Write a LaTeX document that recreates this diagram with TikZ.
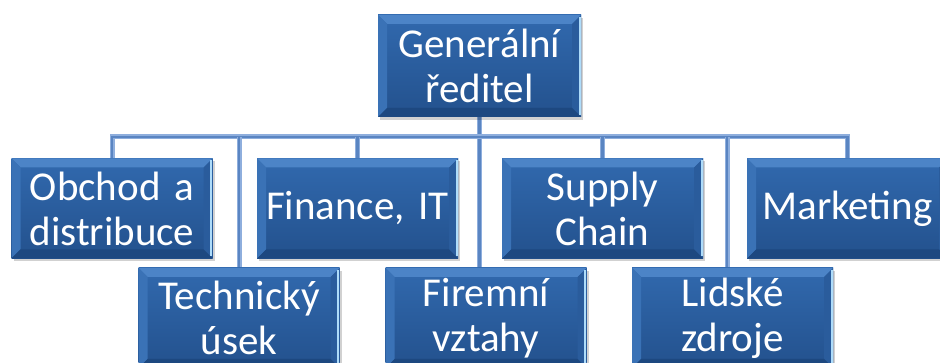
\documentclass[tikz,border=0pt]{standalone}
\usepackage{fontspec}
\setmainfont{Carlito}
\usetikzlibrary{shadows,calc}
\definecolor{mainTop}{HTML}{3169AE}
\definecolor{mainBot}{HTML}{23518D}
\definecolor{bevTop}{HTML}{4C84C7}
\definecolor{bevLeft}{HTML}{3A72B6}
\definecolor{bevRight}{HTML}{2A5C9C}
\definecolor{bevBot}{HTML}{1D4880}
\definecolor{hiLine}{HTML}{AEDCFA}
\definecolor{conOut}{HTML}{8EAEDD}
\definecolor{conIn}{HTML}{5A85C2}
\newcommand{\boxfont}{\fontsize{41}{45}\selectfont\frenchspacing\spaceskip=0.22em\relax}
\tikzset{
  orgbox/.style={minimum width=#1, minimum height=100pt, inner sep=0pt,
    text width=195pt, align=center, font=\boxfont, text=white,
    top color=mainTop, bottom color=mainBot, draw=none,
    drop shadow={shadow xshift=2pt, shadow yshift=-3pt, fill=black, opacity=0.18},
    path picture={
      \fill[bevTop] (path picture bounding box.north west) -- (path picture bounding box.north east)
        -- ([shift={(-9pt,-9pt)}]path picture bounding box.north east)
        -- ([shift={(9pt,-9pt)}]path picture bounding box.north west) -- cycle;
      \fill[bevLeft] (path picture bounding box.north west) -- (path picture bounding box.south west)
        -- ([shift={(9pt,9pt)}]path picture bounding box.south west)
        -- ([shift={(9pt,-9pt)}]path picture bounding box.north west) -- cycle;
      \fill[bevRight] (path picture bounding box.north east) -- (path picture bounding box.south east)
        -- ([shift={(-9pt,9pt)}]path picture bounding box.south east)
        -- ([shift={(-9pt,-9pt)}]path picture bounding box.north east) -- cycle;
      \fill[bevBot] (path picture bounding box.south west) -- (path picture bounding box.south east)
        -- ([shift={(-9pt,9pt)}]path picture bounding box.south east)
        -- ([shift={(9pt,9pt)}]path picture bounding box.south west) -- cycle;
      \draw[hiLine, line width=2pt] ([shift={(-1.5pt,-2pt)}]path picture bounding box.north east)
        -- ([shift={(-1.5pt,2pt)}]path picture bounding box.south east);
    }},
  orgbox/.default=201pt,
  conn/.style={draw=conOut, double=conIn, double distance=2.4pt, line width=1.3pt, line join=miter}
}
\begin{document}
\begin{tikzpicture}[x=1pt,y=-1pt]
\useasboundingbox (0,0) rectangle (940,363);
\clip (0,0) rectangle (940,363);
\fill[white] (0,0) rectangle (940,363);
\coordinate (bus) at (480,137);
\path
  (479.5,66) coordinate (pgen)
  (112,208.5) coordinate (pobchod)
  (357.5,208.5) coordinate (pfin)
  (602.5,208.5) coordinate (psup)
  (847.5,208.5) coordinate (pmark)
  (239,318) coordinate (ptech)
  (486,318) coordinate (pfir)
  (732.5,318) coordinate (plid);
% connectors
\draw[conn] (pgen) -- (pgen |- 0,268);
\draw[conn] (pobchod) -- (pobchod |- bus) -- (pmark |- bus) -- (pmark);
\draw[conn] (ptech |- bus) -- (ptech |- 0,268);
\draw[conn] (pfin |- bus) -- (pfin);
\draw[conn] (psup |- bus) -- (psup);
\draw[conn] ([xshift=-5.5pt]plid |- bus) -- ([xshift=-5.5pt]plid |- 0,268);
% boxes
\node[orgbox=203pt, minimum height=102pt] (gen) at (pgen) {Generální\\ředitel};
\node[orgbox] (obchod) at (pobchod) {Obchod a\\distribuce};
\node[orgbox] (fin) at (pfin) {Finance, IT};
\node[orgbox] (sup) at (psup) {Supply\\Chain};
\node[orgbox] (mark) at (pmark) {Marketing};
\node[orgbox] (tech) at (ptech) {Technický\\úsek};
\node[orgbox] (fir) at (pfir) {Firemní\\vztahy};
\node[orgbox] (lid) at (plid) {Lidské\\zdroje};
\end{tikzpicture}
\end{document}
